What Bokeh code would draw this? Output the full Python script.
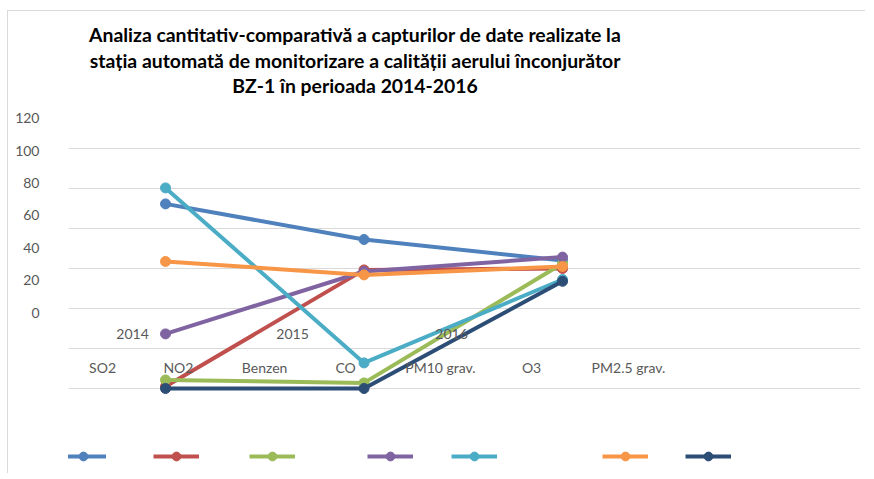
from bokeh.plotting import figure
from bokeh.models import Range1d, LinearAxis, FixedTicker, Legend, LegendItem
from bokeh.core.properties import value
from bokeh.embed import file_html
from bokeh.resources import INLINE

# ---- data ----
years = ["2014", "2015", "2016"]
pollutants = ["SO2", "NO2", "Benzen", "CO", "PM10 grav.", "O3", "PM2.5 grav."]
so2 = [92.3, 74.5, 64.0]
no2 = [1.0, 59.3, 60.0]
benzen = [4.3, 2.8, 62.5]
co = [27.3, 58.5, 65.7]
pm10 = [100.3, 12.8, 54.5]
o3 = [63.5, 56.8, 61.0]
pm25 = [0.0, 0.0, 53.6]
y_ticks = [0, 20, 40, 60, 80, 100, 120]
title_lines = [
    "Analiza cantitativ-comparativă a capturilor de date realizate la",
    "stația automată de monitorizare a calității aerului înconjurător",
    "BZ-1 în perioada 2014-2016",
]

series = [so2, no2, benzen, co, pm10, o3, pm25]
colors = ["#4F81BD", "#C0504D", "#9BBB59", "#8064A2", "#4BACC6", "#F79646", "#2C4D75"]
xs = list(range(len(years)))

FONT = "Lato"
GRAY = "#595959"

p = figure(width=858, height=463, output_backend="svg", toolbar_location=None,
           x_range=Range1d(-0.4887, 3.501), y_range=Range1d(-43, 188.5),
           x_axis_location=None, y_axis_location=None,
           min_border_left=60, min_border_right=6, min_border_top=0, min_border_bottom=0,
           styles={"margin-left": "7px", "margin-top": "10px",
                   "border-left": "1px solid #d9d9d9", "border-top": "1px solid #d9d9d9"})
p.outline_line_color = None
p.xgrid.visible = False
p.ygrid.ticker = FixedTicker(ticks=y_ticks)
p.ygrid.grid_line_color = "#d9d9d9"
p.ygrid.grid_line_width = 1

# misplaced value-axis labels (as in the original picture)
p.extra_y_ranges = {"lab": Range1d(-100.2, 186.18)}
ax = LinearAxis(y_range_name="lab", ticker=FixedTicker(ticks=y_ticks))
ax.axis_line_color = None
ax.major_tick_line_color = None
ax.minor_tick_line_color = None
ax.major_tick_out = 0
ax.major_tick_in = 0
ax.major_label_standoff = 29
ax.major_label_text_font = FONT
ax.major_label_text_font_size = "14px"
ax.major_label_text_color = GRAY
p.add_layout(ax, "left")

# series
items = []
for name, vals, c in zip(pollutants, series, colors):
    r1 = p.line(xs, vals, line_color=c, line_width=4)
    r2 = p.scatter(xs, vals, size=10, fill_color=c, line_color=c)
    items.append(LegendItem(label=name, renderers=[r1, r2]))

# title
title_x = [0.955] * 3
title_y = [177.0, 164.0, 151.5]
p.text(title_x, title_y, text=title_lines, text_align="center", text_baseline="middle",
       text_font=value(FONT), text_font_style="bold", text_font_size="19.4px", text_color="#000000")

# misplaced year labels
year_x = [-0.166, 0.640, 1.441]
p.text(year_x, [27.5] * 3, text=years, text_align="center", text_baseline="middle",
       text_font=value(FONT), text_font_size="14px", text_color=GRAY)

# misplaced series-name labels
cat_x = [-0.317, 0.065, 0.499, 0.907, 1.385, 1.844, 2.332]
p.text(cat_x, [10.5] * 7, text=pollutants, text_align="center", text_baseline="middle",
       text_font=value(FONT), text_font_size="14px", text_color=GRAY)

legend = Legend(items=items, orientation="horizontal", location=(-8, 7))
legend.glyph_width = 46
legend.glyph_height = 22
legend.label_height = 22
legend.label_width = 0
legend.label_standoff = 4
legend.spacing = 6
legend.padding = 0
legend.margin = 0
legend.border_line_color = None
legend.background_fill_alpha = 0
legend.label_text_alpha = 0
legend.label_text_font = FONT
legend.label_text_font_size = "19px"
p.add_layout(legend, "center")

open("out.html", "w").write(file_html(p, INLINE))
